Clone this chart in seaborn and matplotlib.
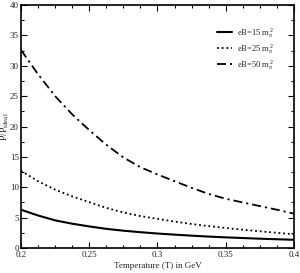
import numpy as np
import pandas as pd
import matplotlib
matplotlib.use("Agg")
import matplotlib.pyplot as plt
import seaborn as sns

temperature = [0.2, 0.2125, 0.225, 0.2375, 0.25, 0.2625, 0.275, 0.2875, 0.3,
               0.3125, 0.325, 0.3375, 0.35, 0.3625, 0.375, 0.3875, 0.4]
ratio_eB15 = [6.3, 5.35, 4.55, 4.0, 3.55, 3.15, 2.85, 2.6, 2.38,
              2.2, 2.03, 1.88, 1.75, 1.64, 1.53, 1.44, 1.35]
ratio_eB25 = [12.7, 11.0, 9.6, 8.5, 7.55, 6.6, 5.85, 5.25, 4.8,
              4.35, 3.95, 3.6, 3.3, 3.0, 2.75, 2.5, 2.25]
ratio_eB50 = [32.6, 28.6, 25.0, 22.0, 19.4, 17.0, 14.9, 13.3, 12.1,
              11.0, 9.9, 8.9, 8.1, 7.5, 6.9, 6.3, 5.65]
labels = [r"eB=15 m$_\pi^{\ 2}$", r"eB=25 m$_\pi^{\ 2}$", r"eB=50 m$_\pi^{\ 2}$"]
x_ticks = [0.2, 0.25, 0.3, 0.35, 0.4]
x_ticklabels = ["0.2", "0.25", "0.3", "0.35", "0.4"]
y_ticks = [0, 5, 10, 15, 20, 25, 30, 35, 40]

sns.set_style("ticks")
plt.rcParams['font.family'] = ['Liberation Serif', 'DejaVu Serif']
plt.rcParams['mathtext.fontset'] = 'custom'
plt.rcParams['mathtext.rm'] = 'Liberation Serif'
plt.rcParams['mathtext.it'] = 'Liberation Serif:italic'

fig = plt.figure(figsize=(3.0, 2.73), dpi=100)
ax = fig.add_axes([0.07, 0.0916, 0.91, 0.89])

series = [ratio_eB15, ratio_eB25, ratio_eB50]
styles = ['-', (0, (1, 1.6)), (0, (5, 2.2, 1.2, 2.2))]
widths = [1.5, 1.3, 1.3]
for vals, lab, ls, lw in zip(series, labels, styles, widths):
    df = pd.DataFrame({"T": temperature, "r": vals})
    sns.lineplot(data=df, x="T", y="r", ax=ax, color='black', linestyle=ls,
                 linewidth=lw, label=lab)

ax.set_xlim(0.2, 0.4)
ax.set_ylim(0, 40)
ax.set_xticks(x_ticks)
ax.set_xticklabels(x_ticklabels)
ax.set_yticks(y_ticks)
ax.set_xticks(np.arange(0.2, 0.4001, 0.0125), minor=True)
ax.set_yticks(np.arange(0, 40.01, 2.5), minor=True)
ax.tick_params(which='both', direction='in', top=True, right=True,
               labelsize=6.5, width=0.8, color='black')
ax.tick_params(axis='x', which='both', pad=2.5)
ax.tick_params(axis='y', which='both', pad=1.5)
ax.tick_params(which='major', length=4)
ax.tick_params(which='minor', length=2.5)
for s in ax.spines.values():
    s.set_linewidth(1.2)
    s.set_color('black')

ax.set_xlabel("Temperature (T) in GeV", fontsize=6.5, labelpad=2)
ax.set_ylabel(r"P/P$_{\rm ideal}$", fontsize=7)
ax.yaxis.set_label_coords(-0.036, 0.5)

leg = ax.legend(loc='upper left', bbox_to_anchor=(0.69, 0.945), frameon=False,
                fontsize=6, handlelength=1.8, handletextpad=0.6, labelspacing=0.35)

fig.savefig("out.png", dpi=100)
